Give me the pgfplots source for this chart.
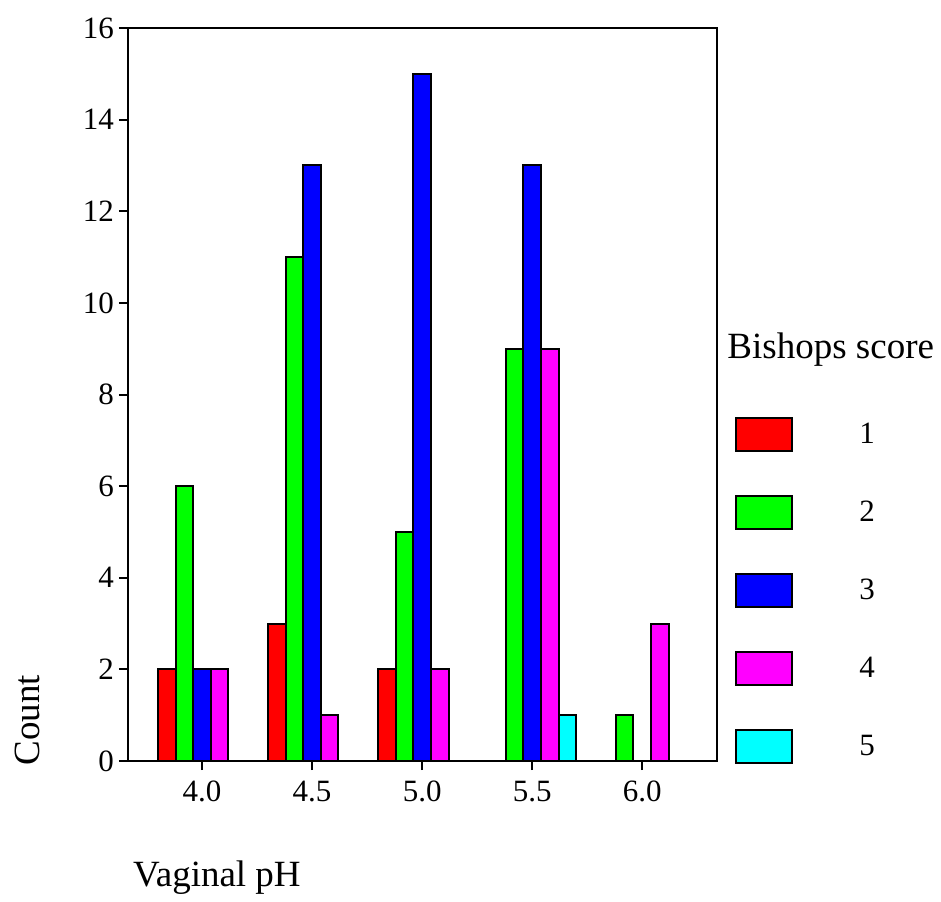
\documentclass[border=0pt]{standalone}
\usepackage{pgfplots}
\pgfplotsset{compat=1.18}
\usepackage{fontspec}
\setmainfont{Liberation Serif}
\definecolor{cR}{RGB}{255,0,0}
\definecolor{cG}{RGB}{0,255,0}
\definecolor{cB}{RGB}{0,0,255}
\definecolor{cM}{RGB}{255,0,255}
\definecolor{cC}{RGB}{0,255,255}
\begin{document}
\begin{tikzpicture}
\path (-64pt,-66.5pt) rectangle (406.5pt,380.5pt);
\begin{axis}[
  scale only axis,
  width=294.5pt, height=366.5pt,
  ybar, bar width=0.16,
  xmin=-0.673, xmax=4.68,
  ymin=0, ymax=16,
  ytick={0,2,...,16},
  xtick={0,1,2,3,4},
  xticklabels={4.0,4.5,5.0,5.5,6.0},
  tick align=outside,
  xtick pos=bottom, ytick pos=left,
  major tick length=4.5pt,
  axis line style={line width=1pt},
  tick style={line width=1pt, black},
  /pgf/number format/assume math mode=true,
  tick label style={font=\fontsize{15.5}{18}\selectfont},
  yticklabel style={xshift=1pt},
  xticklabel style={yshift=-2pt},
  xlabel={Vaginal pH},
  ylabel={Count},
  xlabel style={font=\fontsize{18.5}{22}\selectfont, at={(rel axis cs:0.151,-0.1596)}, anchor=center},
  ylabel style={font=\fontsize{18.5}{22}\selectfont, at={(rel axis cs:-0.1715,0.056)}, anchor=center, rotate=0},
  legend image code/.code={\draw[#1,draw=black,line width=1pt] (0pt,-8.25pt) rectangle (28pt,8.25pt);},
  legend style={draw=none, fill=none, at={(rel axis cs:1.0306,0.470)}, anchor=north west,
    inner sep=0pt, row sep=21.5pt, font=\fontsize{15.5}{18}\selectfont,
    nodes={inner sep=0pt, anchor=west},
    /tikz/every odd column/.append style={column sep=33pt}},
  legend cell align=left,
  clip=false,
]
\addplot[fill=cR, draw=black, line width=1pt, bar shift=-0.32] coordinates {(0,2) (1,3) (2,2)};
\addplot[fill=cG, draw=black, line width=1pt, bar shift=-0.16] coordinates {(0,6) (1,11) (2,5) (3,9) (4,1)};
\addplot[fill=cB, draw=black, line width=1pt, bar shift=0] coordinates {(0,2) (1,13) (2,15) (3,13)};
\addplot[fill=cM, draw=black, line width=1pt, bar shift=0.16] coordinates {(0,2) (1,1) (2,2) (3,9) (4,3)};
\addplot[fill=cC, draw=black, line width=1pt, bar shift=0.32] coordinates {(3,1)};
\legend{1,2,3,4,5}
\node[anchor=west, inner sep=0pt, font=\fontsize{18.5}{22}\selectfont] at (rel axis cs:1.017,0.561) {Bishops score};
\end{axis}
\end{tikzpicture}
\end{document}
